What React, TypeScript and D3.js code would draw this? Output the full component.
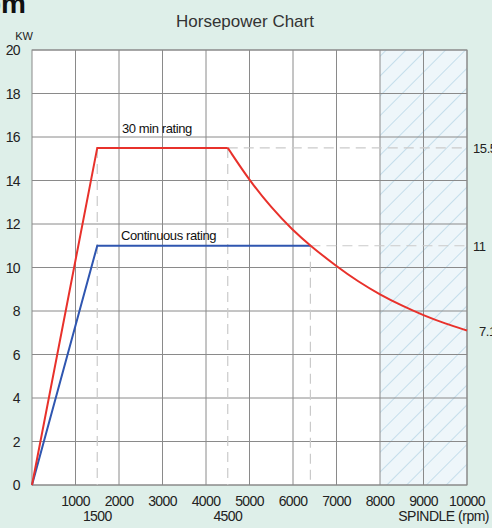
import React from "react";
import * as d3 from "d3";

const xTicks = [1000, 2000, 3000, 4000, 5000, 6000, 7000, 8000, 9000, 10000];
const xSubTicks = [1500, 4500];
const yTicks = [0, 2, 4, 6, 8, 10, 12, 14, 16, 18, 20];
const rightLabels = [
  { label: "15.5", value: 15.5 },
  { label: "11", value: 11 },
  { label: "7.1", value: 7.1 },
];
const ratingMin30Rpm = [0, 1500, 4500, 5000, 5500, 6000, 6400, 7000, 7500, 8000, 8500, 9000, 9500, 10000];
const ratingMin30Kw = [0, 15.5, 15.5, 14.0, 12.75, 11.7, 11.0, 10.05, 9.35, 8.75, 8.25, 7.8, 7.42, 7.1];
const continuousRpm = [0, 1500, 6400];
const continuousKw = [0, 11, 11];
const hatchRange = [8000, 10000];

const W = 492;
const H = 528;
const left = 32;
const right = 467;
const top = 50;
const bottom = 485;

export default function App() {
  const x = d3.scaleLinear().domain([0, 10000]).range([left, right]);
  const y = d3.scaleLinear().domain([0, 20]).range([bottom, top]);

  const pts = ratingMin30Rpm.map((r, i) => [r, ratingMin30Kw[i]] as [number, number]);
  const straight = pts.slice(0, 3);
  const curvePts = pts.slice(2);
  const lineLin = d3.line<[number, number]>().x((d) => x(d[0])).y((d) => y(d[1]));
  const lineCurve = d3
    .line<[number, number]>()
    .x((d) => x(d[0]))
    .y((d) => y(d[1]))
    .curve(d3.curveBasis);
  const cont = continuousRpm.map((r, i) => [r, continuousKw[i]] as [number, number]);

  const font = "'Liberation Sans', Arial, sans-serif";
  const gridColor = "#8a8a8a";
  const dash = "#cacaca";

  return (
    <svg
      width={W}
      height={H}
      style={{ position: "absolute", left: 0, top: 0, display: "block" }}
      fontFamily={font}
    >
      <defs>
        <pattern id="hatch" width="14" height="14" patternUnits="userSpaceOnUse" patternTransform="rotate(45)">
          <rect width="14" height="14" fill="#eef6fa" />
          <line x1="0" y1="0" x2="0" y2="14" stroke="#a9cfe2" strokeWidth="1.2" />
        </pattern>
        <clipPath id="plotClip">
          <rect x={left} y={top} width={right - left} height={bottom - top} />
        </clipPath>
      </defs>
      <rect x={0} y={0} width={W} height={H} fill="#deefe9" />
      <text x={26} y={13} textAnchor="end" fontSize={28} fontWeight="bold" fill="#111">
        rpm
      </text>
      <text x={245} y={27} textAnchor="middle" fontSize={17} fill="#333">
        Horsepower Chart
      </text>
      <text x={24} y={40} textAnchor="middle" fontSize={11} fill="#222">
        KW
      </text>

      <rect x={left} y={top} width={right - left} height={bottom - top} fill="#fff" />
      <rect
        x={x(hatchRange[0])}
        y={top}
        width={x(hatchRange[1]) - x(hatchRange[0])}
        height={bottom - top}
        fill="url(#hatch)"
      />

      {xTicks.map((t) => (
        <line key={"gx" + t} x1={x(t)} x2={x(t)} y1={top} y2={bottom} stroke={gridColor} strokeWidth={1} />
      ))}
      {yTicks.map((t) => (
        <line key={"gy" + t} x1={left} x2={right} y1={y(t)} y2={y(t)} stroke={gridColor} strokeWidth={1} />
      ))}
      <rect x={left} y={top} width={right - left} height={bottom - top} fill="none" stroke={gridColor} strokeWidth={1} />

      <g stroke={dash} strokeWidth={1.2} strokeDasharray="10,6" clipPath="url(#plotClip)">
        <line x1={x(1500)} x2={x(1500)} y1={y(15.5)} y2={bottom} />
        <line x1={x(4500)} x2={x(4500)} y1={y(15.5)} y2={bottom} />
        <line x1={x(6400)} x2={x(6400)} y1={y(11)} y2={bottom} />
        <line x1={x(4500)} x2={right} y1={y(15.5)} y2={y(15.5)} />
        <line x1={x(6400)} x2={right} y1={y(11)} y2={y(11)} />
      </g>

      <path d={lineLin(cont) || ""} fill="none" stroke="#2f56b0" strokeWidth={2} />
      <path d={lineLin(straight) || ""} fill="none" stroke="#e8312b" strokeWidth={2} />
      <path d={lineCurve(curvePts) || ""} fill="none" stroke="#e8312b" strokeWidth={2} />

      <text x={122} y={133} fontSize={13} fill="#111" letterSpacing={-0.4}>
        30 min rating
      </text>
      <text x={121} y={240} fontSize={13} fill="#111" letterSpacing={-0.4}>
        Continuous rating
      </text>

      {yTicks.map((t) => (
        <text key={"yl" + t} x={20} y={y(t) + 5} textAnchor="end" fontSize={14} fill="#222" letterSpacing={-0.6}>
          {t}
        </text>
      ))}
      {xTicks.map((t) => (
        <text key={"xl" + t} x={x(t)} y={506} textAnchor="middle" fontSize={14} fill="#222" letterSpacing={-0.6}>
          {t}
        </text>
      ))}
      {xSubTicks.map((t) => (
        <text key={"xs" + t} x={x(t)} y={521} textAnchor="middle" fontSize={14} fill="#222" letterSpacing={-0.6}>
          {t}
        </text>
      ))}
      <text x={489} y={521} textAnchor="end" fontSize={14} fill="#222" letterSpacing={-0.5}>
        SPINDLE (rpm)
      </text>

      {rightLabels.map((r, i) => (
        <text
          key={"rl" + r.label}
          x={i === 2 ? 479 : 473}
          y={y(r.value) + 5}
          fontSize={13}
          fill="#222"
          letterSpacing={-0.4}
        >
          {r.label}
        </text>
      ))}
    </svg>
  );
}
